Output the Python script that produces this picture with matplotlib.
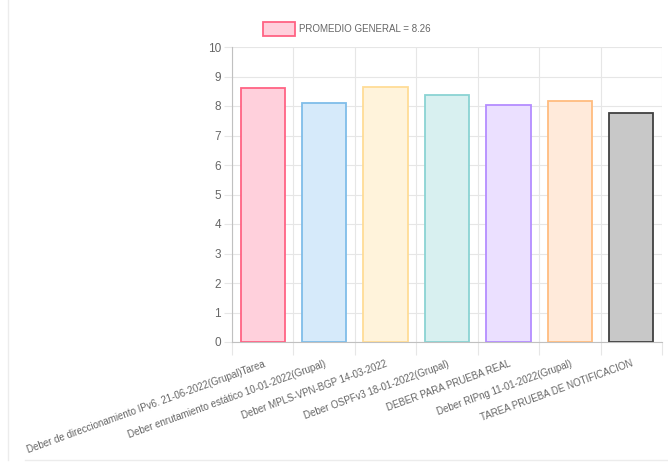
import numpy as np
import matplotlib.pyplot as plt
from matplotlib.patches import Rectangle
from matplotlib.lines import Line2D

plt.rcParams['font.family'] = ['Liberation Sans', 'DejaVu Sans']

# Data
tareas = ['Deber de direccionamiento IPv6. 21-06-2022(Grupal)Tarea',
          'Deber enrutamiento estático 10-01-2022(Grupal)',
          'Deber MPLS-VPN-BGP 14-03-2022',
          'Deber OSPFv3 18-01-2022(Grupal)',
          'DEBER PARA PRUEBA REAL',
          'Deber RIPng 11-01-2022(Grupal)',
          'TAREA PRUEBA DE NOTIFICACION']
notas = [8.60, 8.10, 8.66, 8.38, 8.04, 8.17, 7.75]
leyenda = 'PROMEDIO GENERAL = 8.26'

fills = ['#ffd0dc', '#d6eafa', '#fff3db', '#d8f0f0', '#ebe0ff', '#ffeada', '#c8c8c8']
borders = ['#ff6384', '#7fbde9', '#ffdc96', '#8ad3d3', '#b48cff', '#ffbc7f', '#404040']

fig = plt.figure(figsize=(6.68, 4.63), dpi=100)
ax = fig.add_axes([232/668, (463-342)/463, 430/668, 295/463])

x = np.arange(len(tareas))
ax.bar(x, notas, width=0.72, color=fills, edgecolor=borders, linewidth=1.3, zorder=3)

ax.set_xlim(-0.5, len(tareas) - 0.5)
ax.set_ylim(0, 10)
ax.set_yticks(range(0, 11))
ax.tick_params(axis='y', labelcolor='#666666', labelsize=8.5, length=6, width=0.8, pad=2, color='#e6e6e6')

# category boundaries as grid lines
ax.set_xticks(np.arange(-0.5, len(tareas)))
ax.set_xticklabels([])
ax.tick_params(axis='x', length=9, color='#e6e6e6', width=0.8)
ax.set_xticks(x, minor=True)
ax.set_xticklabels(tareas, minor=True, rotation=20, ha='right', rotation_mode='anchor',
                   fontsize=7, color='#666666')
ax.tick_params(axis='x', which='minor', length=0, pad=12)
ax.grid(True, which='major', color='#e6e6e6', linewidth=0.8, zorder=0)

for s in ['top', 'right']:
    ax.spines[s].set_visible(False)
ax.spines['left'].set_color('#c0c0c0')
ax.spines['bottom'].set_color('#c0c0c0')

# legend
fig.patches.append(Rectangle((263/668, (463-36)/463), 32/668, 14/463, transform=fig.transFigure,
                             facecolor=fills[0], edgecolor=borders[0], linewidth=1.3))
fig.text(299/668, (463-29)/463, leyenda, fontsize=7, color='#666666', va='center', ha='left')

# outer frame lines
fig.lines.append(Line2D([8/668, 8/668], [3/463, 1], transform=fig.transFigure, color='#ececec', lw=1))
fig.lines.append(Line2D([25/668, 1], [3/463, 3/463], transform=fig.transFigure, color='#ececec', lw=1))

fig.savefig('out.png', dpi=100)
